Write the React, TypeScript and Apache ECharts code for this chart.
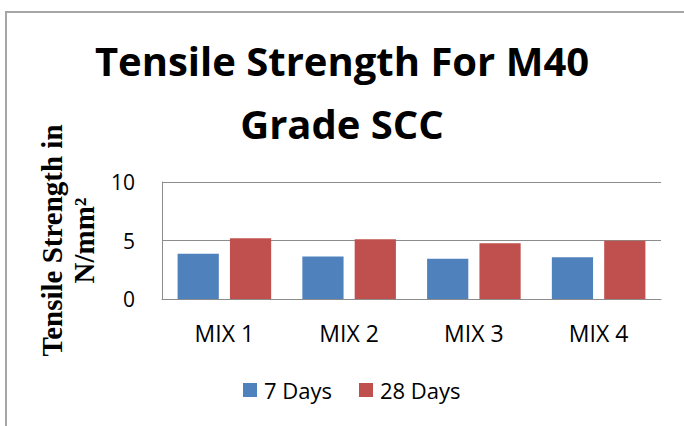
import React, { useEffect, useRef } from "react";
import * as echarts from "echarts";

const categories = ["MIX 1", "MIX 2", "MIX 3", "MIX 4"];
const days7 = [3.87, 3.64, 3.44, 3.56];
const days28 = [5.19, 5.1, 4.76, 4.98];
const yTicks = { min: 0, max: 10, interval: 5 };
const titleText = "Tensile Strength For M40\nGrade SCC";
const yAxisTitle = "Tensile Strength in\nN/mm²";

export default function App() {
  const ref = useRef<HTMLDivElement>(null);
  useEffect(() => {
    if (!ref.current) return;
    const chart = echarts.init(ref.current, null, { renderer: "svg" });
    chart.setOption({
      animation: false,
      backgroundColor: "#ffffff",
      title: {
        text: titleText,
        left: "center",
        top: 29,
        padding: [0, 0, 0, 8],
        textStyle: {
          fontFamily: "Open Sans",
          fontWeight: "bold",
          fontSize: 40,
          lineHeight: 63,
          color: "#000000",
        },
      },
      graphic: [
        {
          type: "rect",
          shape: { x: 6, y: 12, width: 720, height: 480 },
          style: { fill: "none", stroke: "#a6a6a6", lineWidth: 2 },
          silent: true,
          z: 100,
        },
      ],
      legend: {
        left: 238,
        top: 374,
        itemWidth: 14,
        itemHeight: 14,
        itemGap: 27,
        icon: "rect",
        textStyle: { fontFamily: "Open Sans", fontSize: 22, color: "#000000", padding: [0, 0, 0, 2] },
        data: ["7 Days", "28 Days"],
      },
      grid: { left: 162, right: 23, top: 182, bottom: 127, containLabel: false },
      xAxis: {
        type: "category",
        data: categories,
        axisLine: { show: true, lineStyle: { color: "#8c8c8c", width: 1 } },
        axisTick: { show: false },
        axisLabel: { fontFamily: "Open Sans", fontSize: 23, color: "#000000", margin: 22 },
      },
      yAxis: {
        type: "value",
        min: yTicks.min,
        max: yTicks.max,
        interval: yTicks.interval,
        name: yAxisTitle,
        nameLocation: "middle",
        nameRotate: 90,
        nameGap: 51,
        nameTextStyle: {
          fontFamily: "Liberation Serif",
          fontWeight: "bold",
          fontSize: 29,
          lineHeight: 32,
          color: "#000000",
        },
        axisLine: { show: true, lineStyle: { color: "#8c8c8c", width: 1 } },
        axisTick: { show: false },
        splitLine: { show: true, lineStyle: { color: "#8c8c8c", width: 1 } },
        axisLabel: { fontFamily: "Open Sans", fontSize: 21, color: "#000000", margin: 27 },
      },
      series: [
        {
          name: "7 Days",
          type: "bar",
          data: days7,
          barGap: "27%",
          barCategoryGap: "25%",
          itemStyle: { color: "#4f81bd" },
        },
        {
          name: "28 Days",
          type: "bar",
          data: days28,
          itemStyle: { color: "#c0504d" },
        },
      ],
    });
    return () => chart.dispose();
  }, []);
  return (
    <div
      ref={ref}
      style={{ position: "fixed", left: 0, top: 0, width: 684, height: 426 }}
    />
  );
}
